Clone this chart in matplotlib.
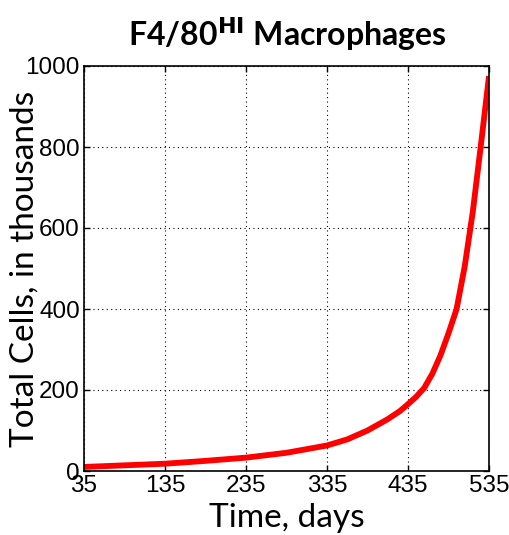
import matplotlib
matplotlib.use("Agg")
import matplotlib.pyplot as plt

days = [35, 85, 135, 185, 235, 285, 335, 360, 385, 410, 425, 435, 445, 455, 465, 475, 485, 495, 505, 515, 525, 535]
cells = [10, 14, 18, 25, 33, 45, 63, 78, 100, 128, 148, 165, 183, 205, 240, 285, 340, 400, 505, 640, 805, 975]
xticks = [35, 135, 235, 335, 435, 535]
yticks = [0, 200, 400, 600, 800, 1000]

plt.rcParams["font.family"] = ["Liberation Sans", "DejaVu Sans"]

fig = plt.figure(figsize=(5.09, 5.35), dpi=100)
ax = fig.add_axes([84/509, 64/535, 405/509, 405/535])
ax.plot(days, cells, color="#ff0000", lw=4.2, solid_capstyle="butt")
ax.set_xlim(35, 535)
ax.set_ylim(0, 1000)
ax.set_xticks(xticks)
ax.set_yticks(yticks)
ax.grid(True, color="black", linestyle=(0, (1, 3)), linewidth=0.8)
ax.tick_params(direction="in", top=True, right=True, length=4, width=1,
               labelsize=17.5, pad=3)
for s in ax.spines.values():
    s.set_linewidth(1.2)
ax.set_xlabel("Time, days", family="Lato", fontsize=24)
ax.set_ylabel("Total Cells, in thousands", family="Lato", fontsize=24)
ax.xaxis.set_label_coords(0.5, -0.078)
ax.yaxis.set_label_coords(-0.11, 0.5)
fig.text(0.565, 0.937, r"F4/80$^{\mathbf{HI}}$ Macrophages", family="Lato",
         fontweight="bold", fontsize=23, ha="center", va="center")
fig.savefig("out.png", dpi=100)
